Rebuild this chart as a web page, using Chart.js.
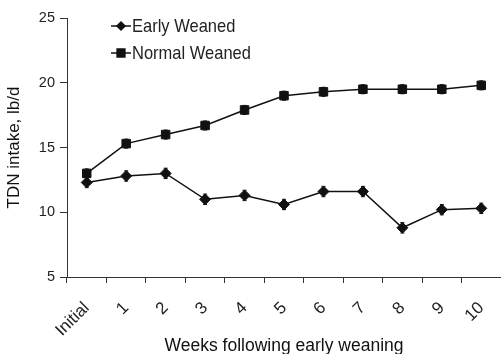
<!DOCTYPE html>
<html><head><meta charset="utf-8">
<script src="https://cdn.jsdelivr.net/npm/chart.js@4/dist/chart.umd.min.js"></script>
<style>html,body{margin:0;padding:0;background:#fff}#wrap{width:501px;height:354px}</style>
</head><body><div id="wrap"><canvas id="c" width="501" height="354"></canvas></div>
<script>
const categories = ['Initial','1','2','3','4','5','6','7','8','9','10'];
const earlyWeaned = [12.3,12.8,13.0,11.0,11.3,10.6,11.6,11.6,8.8,10.2,10.3];
const earlyErr    = [0.4,0.4,0.4,0.4,0.4,0.4,0.4,0.4,0.4,0.4,0.4];
const normalWeaned = [13.0,15.3,16.0,16.7,17.9,19.0,19.3,19.5,19.5,19.5,19.8];
const normalErr    = [0.35,0.35,0.35,0.35,0.35,0.35,0.35,0.35,0.35,0.35,0.35];
const yTicks = [5,10,15,20,25];
const seriesNames = ['Early Weaned','Normal Weaned'];
const errs = [earlyErr, normalErr];

const FONT = '"Liberation Sans", Arial, sans-serif';
const INK = '#111';

const errorBars = {
  id:'errorBars',
  afterDatasetsDraw(chart){
    const ctx = chart.ctx, ys = chart.scales.y;
    chart.data.datasets.forEach((ds,i)=>{
      const meta = chart.getDatasetMeta(i);
      ctx.save(); ctx.strokeStyle = INK; ctx.lineWidth = 1;
      meta.data.forEach((p,j)=>{
        const v = ds.data[j], e = errs[i][j];
        const y1 = ys.getPixelForValue(v+e), y2 = ys.getPixelForValue(v-e);
        ctx.beginPath();
        ctx.moveTo(p.x, y1); ctx.lineTo(p.x, y2);
        ctx.moveTo(p.x-2, y1); ctx.lineTo(p.x+2, y1);
        ctx.moveTo(p.x-2, y2); ctx.lineTo(p.x+2, y2);
        ctx.stroke();
      });
      ctx.restore();
    });
  }
};

const legendBox = {
  id:'legendBox',
  afterDraw(chart){
    const ctx = chart.ctx;
    const rows = [{y:26, style:'rectRot', r:4}, {y:53, style:'rect', r:5.5}];
    chart.data.datasets.forEach((ds,i)=>{
      const r = rows[i];
      ctx.save();
      ctx.strokeStyle = INK; ctx.lineWidth = 1.5;
      ctx.beginPath(); ctx.moveTo(111, r.y); ctx.lineTo(131, r.y); ctx.stroke();
      ctx.fillStyle = INK;
      Chart.helpers.drawPoint(ctx, {pointStyle: r.style, radius: r.r, borderWidth:1}, 121, r.y);
      ctx.fill();
      ctx.font = '16.5px ' + FONT;
      ctx.textBaseline = 'middle';
      ctx.fillStyle = '#222';
      ctx.translate(132, r.y + 1);
      ctx.scale(1, 1.15);
      ctx.fillText(seriesNames[i], 0, 0);
      ctx.restore();
    });
  }
};

new Chart(document.getElementById('c'), {
  type:'line',
  data:{
    labels: categories,
    datasets:[
      {label:seriesNames[0], data:earlyWeaned, borderColor:INK, backgroundColor:INK, borderWidth:1.5,
       pointStyle:'rectRot', pointRadius:5.5, pointBorderWidth:1, tension:0},
      {label:seriesNames[1], data:normalWeaned, borderColor:INK, backgroundColor:INK, borderWidth:1.5,
       pointStyle:'rect', pointRadius:6, pointBorderWidth:1, tension:0}
    ]
  },
  options:{
    responsive:false, animation:false,
    layout:{autoPadding:false, padding:{top:18,right:0,bottom:0,left:0}},
    plugins:{legend:{display:false}, tooltip:{enabled:false}},
    scales:{
      x:{
        offset:true,
        grid:{display:true, drawOnChartArea:false, offset:true, color:'#333', tickLength:6, tickColor:'#333'},
        border:{color:'#333', width:1},
        ticks:{color:'#222', font:{family:FONT,size:17}, maxRotation:45, minRotation:45, padding:15, autoSkip:false},
        title:{display:true, text:'Weeks following early weaning', color:'#111', font:{family:FONT,size:17.5}, padding:{top:0,bottom:-3}},
        afterFit(s){ s.height = 77; s.paddingRight = 0; s.paddingLeft = 0; }
      },
      y:{
        min:5, max:25,
        afterBuildTicks(s){ s.ticks = yTicks.map(v=>({value:v})); },
        grid:{display:true, drawOnChartArea:false, color:'#333', tickLength:7, tickColor:'#333'},
        border:{color:'#333', width:1},
        ticks:{color:'#222', font:{family:FONT,size:14.5}, padding:5},
        title:{display:true, text:'TDN intake, lb/d', color:'#111', font:{family:FONT,size:17}, padding:{top:4,bottom:4}},
        afterFit(s){ s.width = 67; s.paddingTop = 0; s.paddingBottom = 0; }
      }
    }
  },
  plugins:[errorBars, legendBox]
});
</script>
</body></html>
